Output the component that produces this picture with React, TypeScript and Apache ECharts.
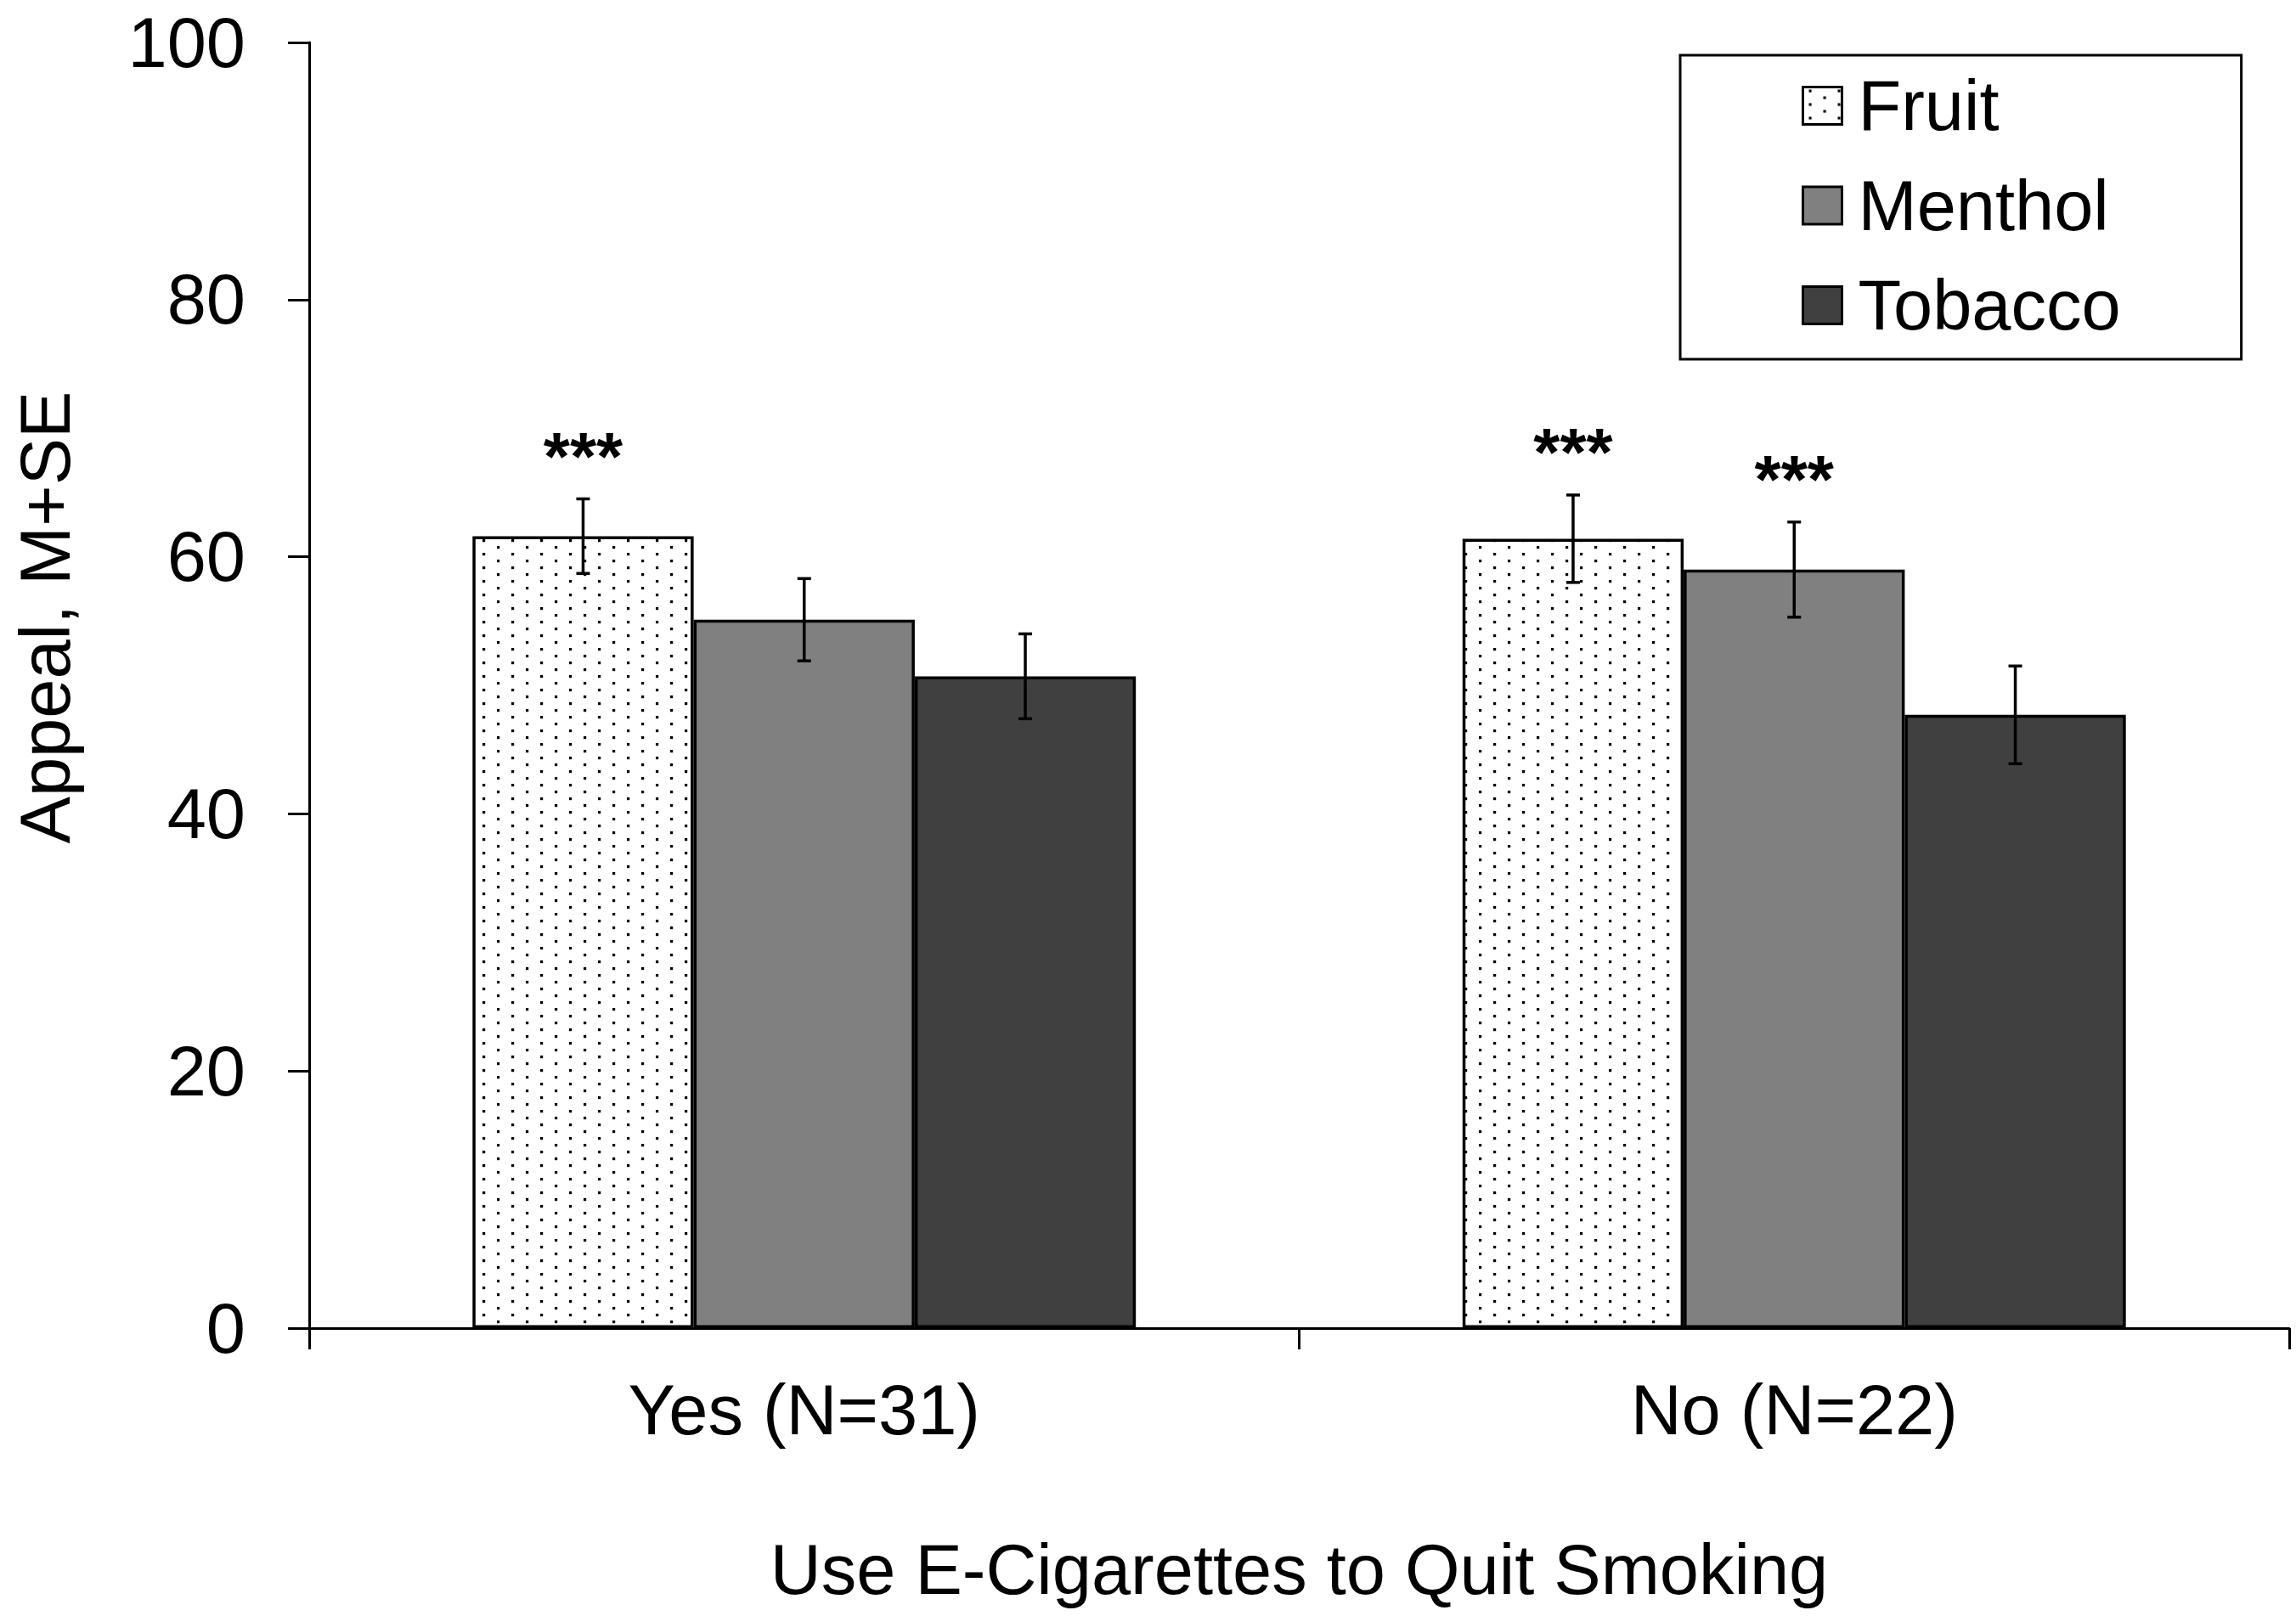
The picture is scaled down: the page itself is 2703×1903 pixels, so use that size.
import React, { useEffect, useRef } from 'react';
import * as echarts from 'echarts';

const categories = ['Yes (N=31)', 'No (N=22)'];
const flavors = ['Fruit', 'Menthol', 'Tobacco'];
const fruitMean = [61.6, 61.4];
const mentholMean = [55.1, 59.0];
const tobaccoMean = [50.7, 47.7];
const fruitSE = [2.9, 3.4];
const mentholSE = [3.2, 3.7];
const tobaccoSE = [3.3, 3.8];
const fruitSig = ['***', '***'];
const mentholSig = ['', '***'];
const tobaccoSig = ['', ''];
const yTickValues = [0, 20, 40, 60, 80, 100];

const FONT = '"Liberation Sans", Arial, Helvetica, sans-serif';
const FS = 83;
const CAT_GAP = 0.33;

function makeDotPattern(): HTMLCanvasElement {
  const c = document.createElement('canvas');
  c.width = 34;
  c.height = 16;
  const ctx = c.getContext('2d')!;
  ctx.fillStyle = '#ffffff';
  ctx.fillRect(0, 0, 34, 16);
  ctx.fillStyle = '#000000';
  ctx.fillRect(7, 3, 3.2, 3.2);
  ctx.fillRect(24, 11, 3.2, 3.2);
  return c;
}

export default function App() {
  const ref = useRef<HTMLDivElement>(null);

  useEffect(() => {
    if (!ref.current) return;
    const chart = echarts.init(ref.current, undefined, { renderer: 'svg' });
    const canvas = makeDotPattern();
    const fruitColor: any = {
      image: canvas,
      repeat: 'repeat',
      imageWidth: 34,
      imageHeight: 16,
    };

    const means = [fruitMean, mentholMean, tobaccoMean];
    const ses = [fruitSE, mentholSE, tobaccoSE];
    const sigs = [fruitSig, mentholSig, tobaccoSig];
    const colors: any[] = [fruitColor, '#808080', '#404040'];

    const errData: number[][] = [];
    for (let fi = 0; fi < flavors.length; fi++) {
      for (let ci = 0; ci < categories.length; ci++) {
        errData.push([ci, fi, means[fi][ci], ses[fi][ci]]);
      }
    }

    const barSeries = flavors.map((name, fi) => ({
      name,
      type: 'bar',
      data: means[fi],
      barGap: '0%',
      barCategoryGap: `${CAT_GAP * 100}%`,
      itemStyle: { color: colors[fi], borderColor: '#000', borderWidth: 3.5 },
      emphasis: { disabled: true },
      z: 2,
    }));

    const option: any = {
      animation: false,
      backgroundColor: '#ffffff',
      textStyle: { fontFamily: FONT },
      grid: { left: 364, right: 8, top: 50, bottom: 339, containLabel: false },
      legend: {
        orient: 'vertical',
        left: 1978,
        top: 65,
        data: flavors,
        selectedMode: false,
        icon: 'rect',
        itemWidth: 46,
        itemHeight: 44,
        itemGap: 34.5,
        padding: [18, 142, 22, 143],
        borderColor: '#000',
        borderWidth: 3,
        backgroundColor: '#fff',
        itemStyle: { borderColor: '#000', borderWidth: 3 },
        textStyle: {
          fontSize: FS,
          fontFamily: FONT,
          color: '#000',
          lineHeight: FS,
          padding: [0, 0, 0, 14],
        },
      },
      xAxis: {
        type: 'category',
        data: categories,
        name: 'Use E-Cigarettes to Quit Smoking',
        nameLocation: 'middle',
        nameGap: 243,
        nameTextStyle: { fontSize: FS, fontFamily: FONT, color: '#000' },
        axisLine: { show: true, lineStyle: { color: '#000', width: 3 } },
        axisTick: { show: true, interval: 0, length: 25, lineStyle: { color: '#000', width: 3 } },
        axisLabel: { fontSize: FS, fontFamily: FONT, color: '#000', margin: 55, interval: 0 },
        splitLine: { show: false },
      },
      yAxis: {
        type: 'value',
        min: yTickValues[0],
        max: yTickValues[yTickValues.length - 1],
        interval: yTickValues[1] - yTickValues[0],
        axisLine: { show: true, lineStyle: { color: '#000', width: 3 } },
        axisTick: { show: true, length: 25, lineStyle: { color: '#000', width: 3 } },
        axisLabel: { fontSize: FS, fontFamily: FONT, color: '#000', margin: 75 },
        splitLine: { show: false },
      },
      graphic: [
        {
          type: 'text',
          x: 53,
          y: 727,
          rotation: Math.PI / 2,
          style: {
            text: 'Appeal, M+SE',
            fontSize: FS,
            fontFamily: FONT,
            fill: '#000',
            align: 'center',
            verticalAlign: 'middle',
          },
        },
      ],
      series: [
        ...barSeries,
        {
          name: 'SE',
          type: 'custom',
          coordinateSystem: 'cartesian2d',
          data: errData,
          encode: { x: 0, y: 2 },
          z: 5,
          silent: true,
          renderItem: (params: any, api: any) => {
            const ci = api.value(0);
            const fi = api.value(1);
            const m = api.value(2);
            const se = api.value(3);
            const band = api.size([1, 0])[0];
            const bw = (band * (1 - CAT_GAP)) / 3;
            const cx = api.coord([ci, 0])[0] + (fi - 1) * bw;
            const top = api.coord([ci, m + se])[1];
            const bot = api.coord([ci, m - se])[1];
            const cap = 8;
            const ls = { stroke: '#000', lineWidth: 3.5 };
            const children: any[] = [
              { type: 'line', shape: { x1: cx, y1: top, x2: cx, y2: bot }, style: ls },
              { type: 'line', shape: { x1: cx - cap, y1: top, x2: cx + cap, y2: top }, style: ls },
              { type: 'line', shape: { x1: cx - cap, y1: bot, x2: cx + cap, y2: bot }, style: ls },
            ];
            const sig = sigs[fi][ci];
            if (sig) {
              children.push({
                type: 'text',
                x: cx,
                y: top - 50,
                style: {
                  text: sig,
                  fontSize: 80,
                  fontWeight: 'bold',
                  fontFamily: FONT,
                  fill: '#000',
                  align: 'center',
                  verticalAlign: 'middle',
                },
              });
            }
            return { type: 'group', children };
          },
        },
      ],
    };

    chart.setOption(option);
    return () => {
      chart.dispose();
    };
  }, []);

  return (
    <div
      ref={ref}
      style={{ position: 'absolute', left: 0, top: 0, width: 2703, height: 1903, background: '#fff' }}
    />
  );
}
